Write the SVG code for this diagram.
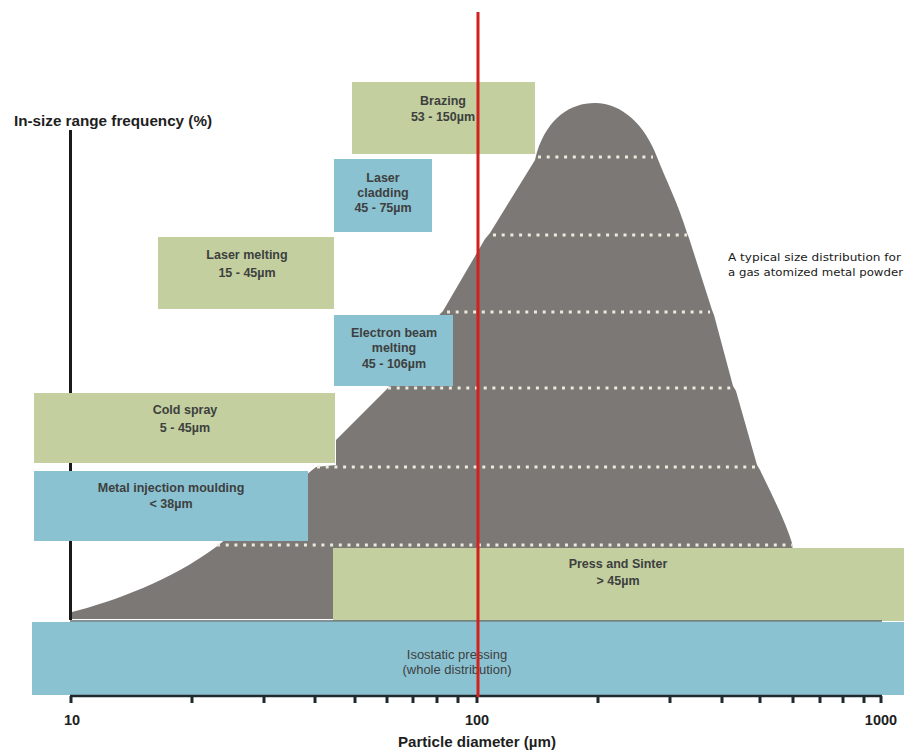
<svg xmlns="http://www.w3.org/2000/svg" width="904" height="751" viewBox="0 0 904 751">
<defs>
<style>
.green{fill:#c3cf9e}
.blue{fill:#8bc2d1}
.lbl{font-family:"Liberation Sans",Arial,sans-serif;font-size:12.5px;font-weight:bold;fill:#3d403f;text-anchor:middle}
.ax{font-family:"Liberation Sans",Arial,sans-serif;font-weight:bold;fill:#1e1e1e}
.dots{stroke:#eeeadc;stroke-width:3;stroke-dasharray:3 5.7;fill:none}
.tick{stroke:#1f2a2e;stroke-width:3}
</style>
</defs>
<rect width="904" height="751" fill="#ffffff"/>

<g id="axis-y">
<line x1="70.5" y1="130" x2="70.5" y2="620" stroke="#1a1a1a" stroke-width="3"/>
<text class="ax" x="14" y="126" font-size="14" textLength="198" lengthAdjust="spacingAndGlyphs">In-size range frequency (%)</text>
</g>

<g id="distribution">
<path fill="#7b7876" d="M72,619 L72,612 C112,602 172,580 216,547 L316,467 L336,465 L336,440 L387,389 L440,314 L443,311 L485,239 L490,233 L535,160 L537,152 C548,118 570,103 595,103 C622,103 645,125 657,157 C665,178 678,203 687,233 L689,238 L712,310 L714,315 L733,386 L736,391 L757,465 L760,470 C772,495 784,518 792,543 L800,619 Z"/>
<line class="dots" x1="538" y1="157" x2="653" y2="157"/>
<line class="dots" x1="493" y1="235" x2="687" y2="235"/>
<line class="dots" x1="447" y1="312" x2="710" y2="312"/>
<line class="dots" x1="388" y1="388" x2="733" y2="388"/>
<line class="dots" x1="317" y1="467" x2="758" y2="467"/>
<line class="dots" x1="217" y1="545" x2="792" y2="545"/>
<text x="728" y="261" font-family="'DejaVu Sans',Verdana,sans-serif" font-size="10.5" fill="#1a1a1a" textLength="173" lengthAdjust="spacingAndGlyphs">A typical size distribution for</text>
<text x="728" y="276" font-family="'DejaVu Sans',Verdana,sans-serif" font-size="10.5" fill="#1a1a1a" textLength="175" lengthAdjust="spacingAndGlyphs">a gas atomized metal powder</text>
</g>

<g id="brazing">
<rect class="green" x="352" y="82" width="183" height="72"/>
<text class="lbl" x="443" y="104.5">Brazing</text>
<text class="lbl" x="443" y="121">53 - 150µm</text>
</g>

<g id="laser-cladding">
<rect class="blue" x="334" y="159" width="98" height="73"/>
<text class="lbl" x="383" y="181.5">Laser</text>
<text class="lbl" x="383" y="196.5">cladding</text>
<text class="lbl" x="383" y="212">45 - 75µm</text>
</g>

<g id="laser-melting">
<rect class="green" x="158" y="237" width="176" height="72"/>
<text class="lbl" x="247" y="258.5">Laser melting</text>
<text class="lbl" x="247" y="276.5">15 - 45µm</text>
</g>

<g id="electron-beam-melting">
<rect class="blue" x="334" y="315" width="119" height="71"/>
<text class="lbl" x="394" y="336.5">Electron beam</text>
<text class="lbl" x="394" y="351.5">melting</text>
<text class="lbl" x="394" y="367.5">45 - 106µm</text>
</g>

<g id="cold-spray">
<rect class="green" x="34" y="393" width="301" height="70"/>
<text class="lbl" x="185" y="413.5">Cold spray</text>
<text class="lbl" x="185" y="431.5">5 - 45µm</text>
</g>

<g id="metal-injection-moulding">
<rect class="blue" x="34" y="471" width="274" height="70"/>
<text class="lbl" x="171" y="491.5">Metal injection moulding</text>
<text class="lbl" x="171" y="507.5">&lt; 38µm</text>
</g>

<g id="press-and-sinter">
<rect class="green" x="333" y="548" width="571" height="73"/>
<text class="lbl" x="618" y="567.5">Press and Sinter</text>
<text class="lbl" x="618" y="584.5">&gt; 45µm</text>
</g>

<line x1="70" y1="621" x2="882" y2="621" stroke="#566e72" stroke-width="1.5"/>

<g id="isostatic-pressing">
<rect class="blue" x="32" y="622" width="872" height="73"/>
<text class="lbl" x="457" y="658.5" style="font-weight:normal;font-size:13px">Isostatic pressing</text>
<text class="lbl" x="457" y="674" style="font-weight:normal;font-size:13px">(whole distribution)</text>
</g>

<g id="axis-x">
<line x1="70" y1="696" x2="882" y2="696" stroke="#1f2a2e" stroke-width="2.5"/>
<g class="tick">
<line x1="71" y1="696" x2="71" y2="703"/>
<line x1="192" y1="696" x2="192" y2="703"/>
<line x1="264" y1="696" x2="264" y2="703"/>
<line x1="315" y1="696" x2="315" y2="703"/>
<line x1="355" y1="696" x2="355" y2="703"/>
<line x1="387" y1="696" x2="387" y2="703"/>
<line x1="413" y1="696" x2="413" y2="703"/>
<line x1="437" y1="696" x2="437" y2="703"/>
<line x1="458" y1="696" x2="458" y2="703"/>
<line x1="477" y1="696" x2="477" y2="703"/>
<line x1="598" y1="696" x2="598" y2="703"/>
<line x1="670" y1="696" x2="670" y2="703"/>
<line x1="722" y1="696" x2="722" y2="703"/>
<line x1="760" y1="696" x2="760" y2="703"/>
<line x1="793" y1="696" x2="793" y2="703"/>
<line x1="820" y1="696" x2="820" y2="703"/>
<line x1="843" y1="696" x2="843" y2="703"/>
<line x1="864" y1="696" x2="864" y2="703"/>
<line x1="881" y1="696" x2="881" y2="703"/>
</g>
<text class="ax" x="72" y="725" font-size="14.5" text-anchor="middle">10</text>
<text class="ax" x="477" y="725" font-size="14.5" text-anchor="middle">100</text>
<text class="ax" x="881" y="725" font-size="14.5" text-anchor="middle">1000</text>
<text class="ax" x="477" y="747" font-size="14.5" text-anchor="middle" textLength="158" lengthAdjust="spacingAndGlyphs">Particle diameter (µm)</text>
</g>

<g id="connectors">
<line x1="478" y1="12" x2="478" y2="697" stroke="#d3201c" stroke-width="3"/>
</g>
</svg>
